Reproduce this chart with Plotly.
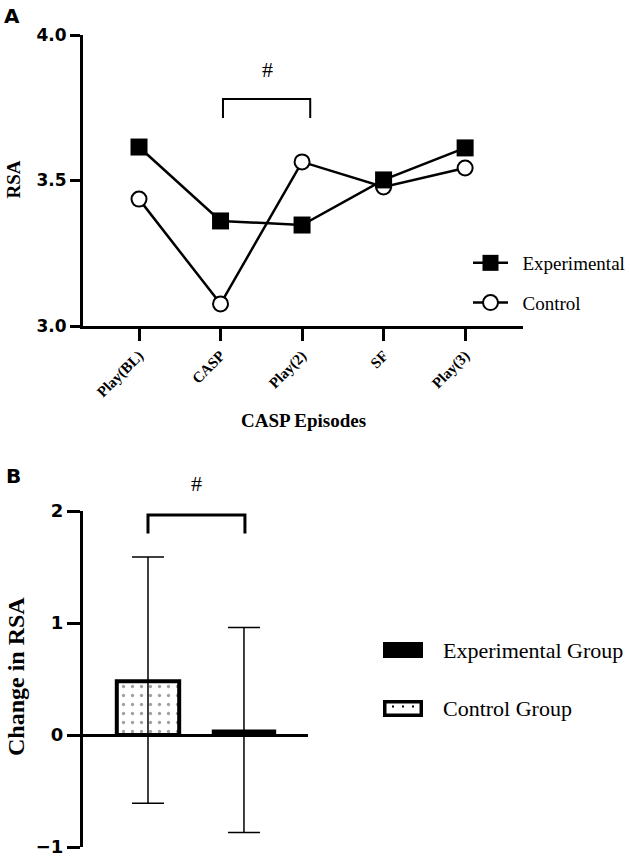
import plotly.graph_objects as go

# Panel A: RSA across CASP episodes
episodes = ["Play(BL)", "CASP", "Play(2)", "SF", "Play(3)"]
rsa_experimental = [3.615, 3.361, 3.347, 3.502, 3.612]
rsa_control = [3.436, 3.076, 3.564, 3.478, 3.543]

# Panel B: change in RSA (mean with error bars)
groups = ["Control Group", "Experimental Group"]
change_rsa = [0.48, 0.04]
err_plus = [1.11, 0.92]
err_minus = [1.09, 0.91]

W, H = 630, 859
SERIF = "Liberation Serif"
SANS = "DejaVu Sans"
GAP = "\u00a0\u00a0"  # extra room between legend symbol and label


def px(x):
    return x / W


def py(y):
    return 1 - y / H


fig = go.Figure()

# control first so the experimental squares sit on top
fig.add_trace(go.Scatter(
    x=episodes, y=rsa_control, name=GAP + "Control", mode="lines+markers",
    line=dict(color="black", width=2.5),
    marker=dict(symbol="circle", size=15, color="white", line=dict(color="black", width=2)),
    legendgroup="c", legendrank=2, xaxis="x", yaxis="y",
))
fig.add_trace(go.Scatter(
    x=episodes, y=rsa_experimental, name=GAP + "Experimental", mode="lines+markers",
    line=dict(color="black", width=2.5),
    marker=dict(symbol="square", size=17, color="black", line=dict(color="black", width=0)),
    legendgroup="e", legendrank=1, xaxis="x", yaxis="y",
))

fig.add_trace(go.Bar(
    x=groups, y=change_rsa, width=0.65, showlegend=False,
    marker=dict(
        color=["white", "black"],
        line=dict(color="black", width=[4, 2]),
        pattern=dict(shape=[".", ""], fgcolor="black", bgcolor="white", size=9, solidity=0.11),
    ),
    error_y=dict(type="data", symmetric=False, array=err_plus, arrayminus=err_minus,
                 color="black", thickness=1.5, width=16),
    xaxis="x2", yaxis="y2",
))

axis_font = dict(family=SANS, size=17, color="black", weight="bold")

fig.update_layout(
    width=W, height=H,
    margin=dict(l=0, r=0, t=0, b=0),
    paper_bgcolor="white", plot_bgcolor="white",
    showlegend=True,
    legend=dict(
        x=px(468), y=py(244), xanchor="left", yanchor="top",
        bgcolor="rgba(0,0,0,0)", font=dict(family=SERIF, size=19, color="black"),
        traceorder="grouped", tracegroupgap=12, itemwidth=35,
    ),
    xaxis=dict(
        domain=[px(83), px(523)], anchor="y", type="category",
        range=[-0.687, 4.71], showgrid=False, zeroline=False,
        showline=True, linecolor="black", linewidth=3,
        ticks="outside", ticklen=12, tickwidth=3, tickcolor="black",
        tickangle=-45, tickfont=dict(family=SERIF, size=15, color="black", weight="bold"),
        automargin=False,
    ),
    yaxis=dict(
        domain=[py(326), py(35)], anchor="x", range=[3.0, 4.0],
        tickvals=[3.0, 3.5, 4.0], ticktext=["3.0", "3.5", "4.0"],
        showgrid=False, zeroline=False,
        showline=True, linecolor="black", linewidth=3,
        ticks="outside", ticklen=10, tickwidth=3, tickcolor="black",
        tickfont=axis_font, automargin=False,
    ),
    xaxis2=dict(
        domain=[px(83), px(308)], anchor="y2", type="category",
        range=[-0.677, 1.667], showgrid=False, zeroline=False,
        showline=False, showticklabels=False, ticks="", automargin=False,
    ),
    yaxis2=dict(
        domain=[py(847), py(511)], anchor="x2", range=[-1, 2],
        tickvals=[-1, 0, 1, 2], showgrid=False,
        zeroline=True, zerolinecolor="black", zerolinewidth=3,
        showline=True, linecolor="black", linewidth=3,
        ticks="outside", ticklen=13, tickwidth=3, tickcolor="black",
        tickfont=dict(family=SANS, size=18, color="black", weight="bold"),
        automargin=False,
    ),
)

# significance brackets
fig.add_shape(type="path", xref="x", yref="y",
              path="M 1.03,3.715 L 1.03,3.78 L 2.1,3.78 L 2.1,3.715",
              line=dict(color="black", width=2))
fig.add_shape(type="path", xref="x2", yref="y2",
              path="M 0,1.80 L 0,1.964 L 1.01,1.964 L 1.01,1.80",
              line=dict(color="black", width=3))

# legend for panel B
fig.add_shape(type="rect", xref="paper", yref="paper",
              x0=px(383), x1=px(423), y0=py(658), y1=py(642),
              fillcolor="black", line=dict(width=0))
fig.add_shape(type="rect", xref="paper", yref="paper",
              x0=px(383), x1=px(423), y0=py(717), y1=py(700),
              fillcolor="black", line=dict(width=0))
fig.add_shape(type="rect", xref="paper", yref="paper",
              x0=px(386.5), x1=px(419.5), y0=py(713.5), y1=py(703.5),
              fillcolor="white", line=dict(width=0))
for dx in [393, 403, 413]:
    fig.add_shape(type="rect", xref="paper", yref="paper",
                  x0=px(dx - 1), x1=px(dx + 1), y0=py(707.5), y1=py(705.5),
                  fillcolor="black", line=dict(width=0))

annotations = [
    dict(text="A", x=px(12), y=py(16), font=dict(family=SANS, size=20, weight="bold")),
    dict(text="B", x=px(13), y=py(476), font=dict(family=SANS, size=20, weight="bold")),
    dict(text="RSA", x=px(12.5), y=py(180), textangle=-90,
         font=dict(family=SERIF, size=19, weight="bold")),
    dict(text="CASP Episodes", x=px(303), y=py(420),
         font=dict(family=SERIF, size=19, weight="bold")),
    dict(text="Change in RSA", x=px(16), y=py(677), textangle=-90,
         font=dict(family=SERIF, size=24, weight="bold")),
    dict(text="Experimental Group", x=px(441), y=py(650), xanchor="left",
         font=dict(family=SERIF, size=22)),
    dict(text="Control Group", x=px(441), y=py(708), xanchor="left",
         font=dict(family=SERIF, size=22)),
    dict(text="#", x=px(196), y=py(483), font=dict(family=SERIF, size=22)),
]
for a in annotations:
    a.setdefault("xanchor", "center")
    a["font"]["color"] = "black"
    fig.add_annotation(xref="paper", yref="paper", yanchor="middle", showarrow=False, **a)

fig.add_annotation(text="#", xref="x", yref="y", x=1.57, y=3.88, showarrow=False,
                   font=dict(family=SERIF, size=22, color="black"))

# the page body has a default 8px margin; drop it so the figure sits at 0,0
fig.write_html("out.html", config={"displayModeBar": False},
               post_script="document.body.style.margin='0';")
